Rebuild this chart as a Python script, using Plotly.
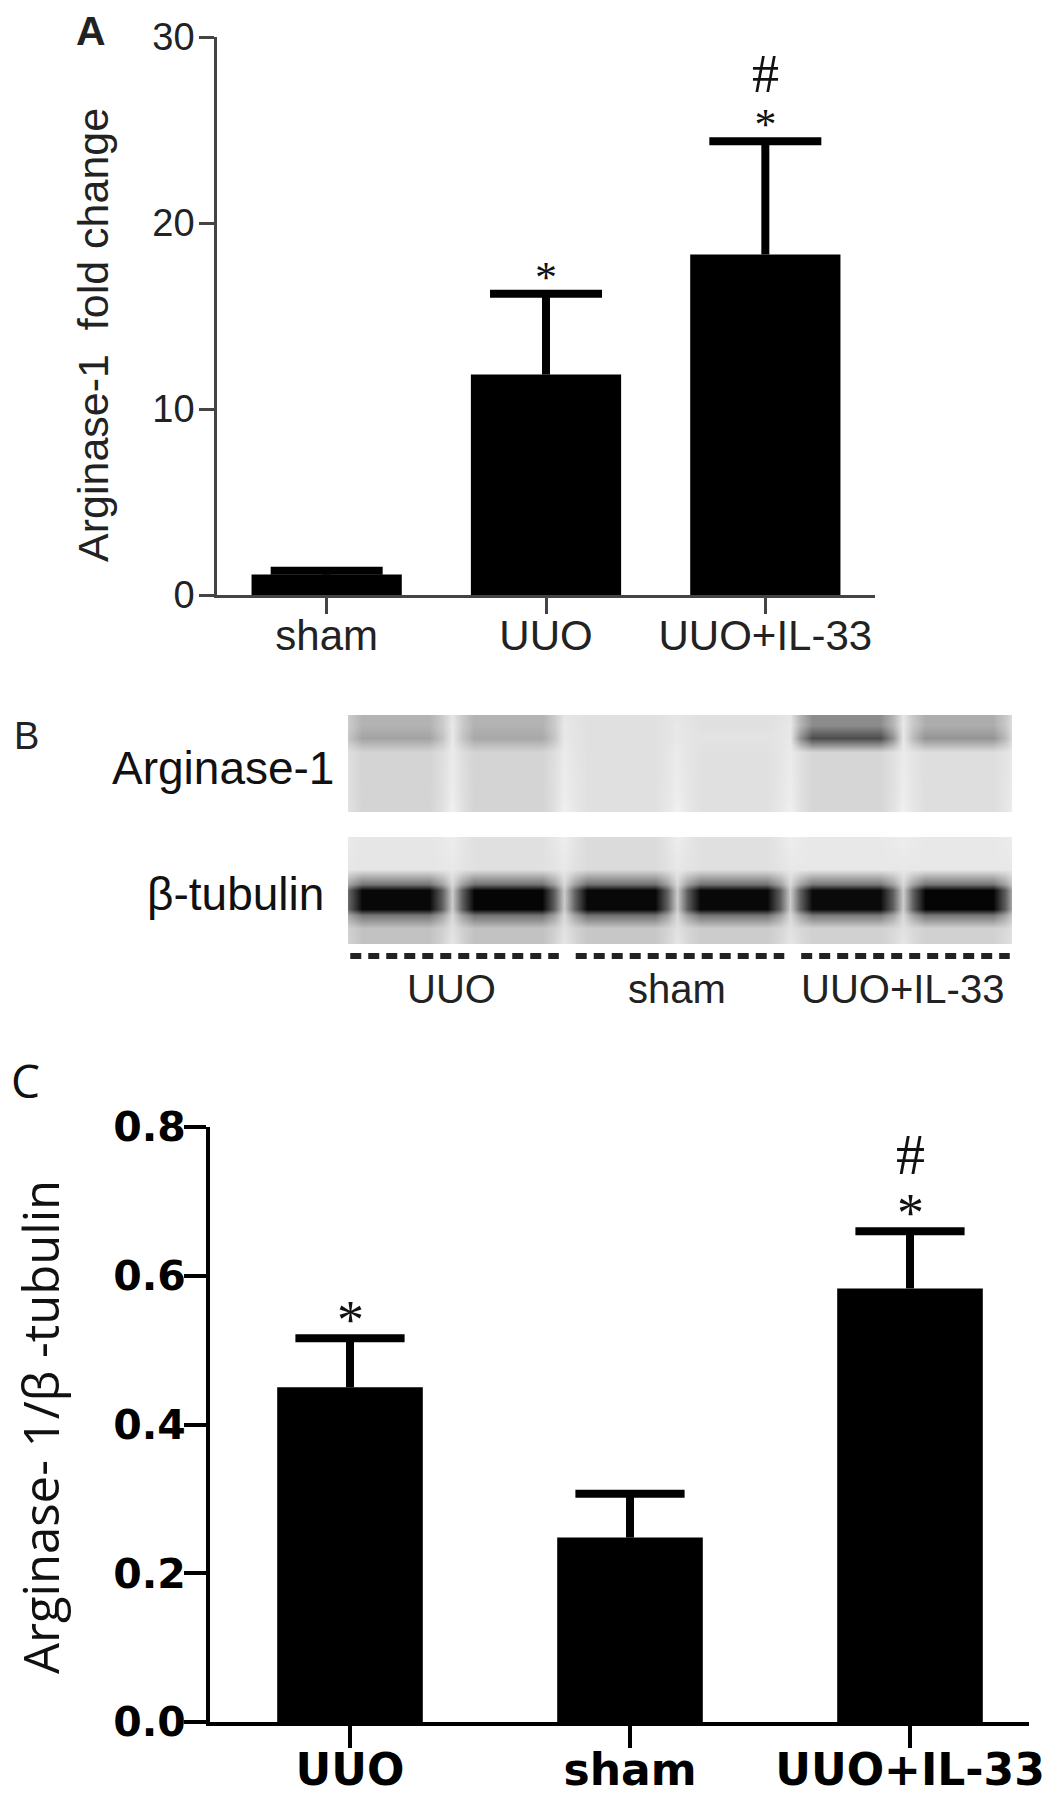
import plotly.graph_objects as go

W, H = 1063, 1800
PAGE_OFFSET = 8  # the html body margin shifts the figure by 8px

# ---------------- data ----------------
# panel A: Arginase-1 mRNA fold change
groups_a = ['sham', 'UUO', 'UUO+IL-33']
fold_mean = [1.1, 11.85, 18.3]
fold_sem = [0.2, 4.35, 6.1]
star_a = ['', '*', '*']
hash_a = ['', '', '#']

# panel B: western blot, darkness per lane (0 = white, 1 = black)
blot_groups = ['UUO', 'sham', 'UUO+IL-33']
lanes_per_group = 2
arg_top = [0.30, 0.30, 0.12, 0.12, 0.45, 0.32]
arg_band = [0.36, 0.34, 0.12, 0.11, 0.70, 0.42]
arg_low = [0.17, 0.17, 0.12, 0.12, 0.16, 0.13]
tub_top = [0.10, 0.12, 0.14, 0.12, 0.09, 0.09]
tub_band = [0.97, 0.98, 0.97, 0.97, 0.96, 0.98]
tub_low = [0.24, 0.24, 0.22, 0.20, 0.18, 0.18]

# panel C: Arginase-1 / beta-tubulin
groups_c = ['UUO', 'sham', 'UUO+IL-33']
ratio_mean = [0.45, 0.248, 0.583]
ratio_sem = [0.066, 0.059, 0.077]
star_c = ['*', '', '*']
hash_c = ['', '', '#']


def fx(p):
    return (p - PAGE_OFFSET) / W


def fy(p):
    return 1 - (p - PAGE_OFFSET) / H


def strip_table(rows, gaps, edge=0.55):
    """lane profiles -> heatmap table (columns: gap, edge, lane, lane, edge, gap ...)"""
    xs = [-0.5]
    for i in range(len(rows[0])):
        xs += [i - 0.41, i - 0.3, i + 0.3, i + 0.41, i + 0.5]
    z = []
    for vals, g in zip(rows, gaps):
        line = [g]
        for v in vals:
            e = g + edge * (v - g)
            line += [e, v, v, e, g]
        z.append(line)
    return xs, z


def error_traces(groups, mean, sem, xa, ya, cap):
    """upper error bar only: stem + cap"""
    sx, sy = [], []
    for g, m, s in zip(groups, mean, sem):
        sx += [g, g, None]
        sy += [m, m + s, None]
    stems = go.Scatter(x=sx, y=sy, mode='lines', hoverinfo='skip',
                       line=dict(color='black', width=8), xaxis=xa, yaxis=ya)
    caps = go.Scatter(x=groups, y=[m + s for m, s in zip(mean, sem)], mode='markers',
                      hoverinfo='skip', xaxis=xa, yaxis=ya,
                      marker=dict(symbol='line-ew', size=cap, color='black',
                                  line=dict(color='black', width=8)))
    return [stems, caps]


def sig_text(star, hsh, size_hash, size_star):
    parts = []
    if hsh:
        parts.append(f'<span style="font-size:{size_hash}px">{hsh}</span>')
    if star:
        parts.append(f'<span style="font-size:{size_star}px">{star}</span>')
    return '<br>'.join(parts)


fig = go.Figure()
grey = [[0, '#ffffff'], [1, '#000000']]

# ---- A ----
fig.add_trace(go.Bar(x=groups_a, y=fold_mean, width=0.685,
                     marker=dict(color='black', line=dict(width=0)),
                     xaxis='x', yaxis='y'))
fig.add_traces(error_traces(groups_a, fold_mean, fold_sem, 'x', 'y', 80))

# ---- B ----
arg_y = [0, 0.1, 0.24, 0.38, 0.85, 0.97, 1.0]
arg_rows = [arg_top, arg_top, arg_band, arg_low, arg_low, arg_low, arg_low]
arg_gaps = [0.10, 0.09, 0.09, 0.08, 0.07, 0.06, 0.05]
xs, z = strip_table(arg_rows, arg_gaps)
fig.add_trace(go.Heatmap(x=xs, y=arg_y, z=z, colorscale=grey, zmin=0, zmax=1,
                         zsmooth='best', showscale=False, hoverinfo='skip',
                         xaxis='x3', yaxis='y3'))

tub_edge = [(b + t) / 2 for b, t in zip(tub_band, tub_top)]
tub_y = [0, 0.02, 0.3, 0.44, 0.5, 0.68, 0.74, 0.86, 0.98, 1.0]
tub_rows = [tub_top, tub_top, tub_top, tub_edge, tub_band, tub_band, tub_edge,
            tub_low, tub_low, tub_low]
tub_gaps = [0.07, 0.07, 0.09, 0.15, 0.20, 0.20, 0.15, 0.12, 0.10, 0.10]
xs, z = strip_table(tub_rows, tub_gaps)
fig.add_trace(go.Heatmap(x=xs, y=tub_y, z=z, colorscale=grey, zmin=0, zmax=1,
                         zsmooth='best', showscale=False, hoverinfo='skip',
                         xaxis='x3', yaxis='y4'))

# dashed group markers under the blot
dash_x, dash_y = [], []
for g in range(len(blot_groups)):
    first = g * lanes_per_group
    last = first + lanes_per_group - 1
    dash_x += [first - 0.4, last + 0.45, None]
    dash_y += [1.123, 1.123, None]
fig.add_trace(go.Scatter(x=dash_x, y=dash_y, mode='lines', hoverinfo='skip',
                         line=dict(color='#222222', width=6, dash='11px,7px'),
                         xaxis='x3', yaxis='y4'))

# ---- C ----
fig.add_trace(go.Bar(x=groups_c, y=ratio_mean, width=0.52,
                     marker=dict(color='black', line=dict(width=0)),
                     xaxis='x2', yaxis='y2'))
fig.add_traces(error_traces(groups_c, ratio_mean, ratio_sem, 'x2', 'y2', 78))

# significance marks
ann = []
for g, m, s, st, hs in zip(groups_a, fold_mean, fold_sem, star_a, hash_a):
    if st or hs:
        ann.append(dict(x=g, y=m + s, xref='x', yref='y', showarrow=False,
                        text=sig_text(st, hs, 54, 44), yanchor='bottom', yshift=-10,
                        font=dict(family='Liberation Serif', size=36, color='#111')))
for g, m, s, st, hs in zip(groups_c, ratio_mean, ratio_sem, star_c, hash_c):
    if st or hs:
        ann.append(dict(x=g, y=m + s, xref='x2', yref='y2', showarrow=False,
                        text=sig_text(st, hs, 58, 54), yanchor='bottom', yshift=-14,
                        font=dict(family='Liberation Serif', size=44, color='#111')))

# blot group labels
for g, name in enumerate(blot_groups):
    ann.append(dict(x=g * lanes_per_group + (lanes_per_group - 1) / 2, y=fy(989),
                    xref='x3', yref='paper', text=name, showarrow=False,
                    font=dict(family='Liberation Sans', size=40, color='#222')))

# panel letters, titles and blot row labels
sans = 'Liberation Sans, Arial, sans-serif'
labels = [
    dict(x=fx(91), y=fy(31), text='<b>A</b>', borderpad=0,
         font=dict(family=sans, size=41, color='#222')),
    dict(x=fx(93), y=fy(335), text='Arginase-1  fold change', textangle=-90,
         font=dict(family=sans, size=43, color='#222')),
    dict(x=fx(26), y=fy(736), text='B', font=dict(family=sans, size=38, color='#222')),
    dict(x=fx(336), y=fy(768), text='Arginase-1', xanchor='right',
         font=dict(family=sans, size=46, color='#111')),
    dict(x=fx(326), y=fy(894), text='β-tubulin', xanchor='right',
         font=dict(family=sans, size=46, color='#111')),
    dict(x=fx(25), y=fy(1080), text='C', font=dict(family='Open Sans', size=46, color='#111')),
    dict(x=fx(40), y=fy(1427), text='Arginase- 1/β -tubulin', textangle=-90, borderpad=0,
         font=dict(family='Open Sans', size=49, color='#111')),
]
for a in labels:
    a.update(xref='paper', yref='paper', showarrow=False)
    a.setdefault('xanchor', 'center')
    a.setdefault('yanchor', 'middle')
ann += labels

axis_a = dict(showgrid=False, zeroline=False, showline=True, linecolor='#444',
              linewidth=2.5, ticks='outside', tickcolor='#444', tickwidth=2.5,
              automargin=False)
axis_c = dict(showgrid=False, zeroline=False, showline=True, linecolor='black',
              linewidth=4, ticks='outside', tickcolor='black', tickwidth=4, ticklen=22,
              automargin=False)

fig.update_layout(
    width=W, height=H,
    margin=dict(l=0, r=0, t=0, b=0, pad=0, autoexpand=False),
    paper_bgcolor='white', plot_bgcolor='white',
    showlegend=False,
    annotations=ann,
    xaxis=dict(axis_a, domain=[fx(217), fx(875)], range=[-0.5, 2.5], anchor='y',
               ticklen=16, ticklabelstandoff=-14,
               tickfont=dict(family=sans, size=42, color='#222')),
    yaxis=dict(axis_a, domain=[fy(595), fy(37)], range=[0, 30], anchor='x',
               tickvals=[0, 10, 20, 30], ticklen=15, ticklabelstandoff=-3,
               tickfont=dict(family=sans, size=38, color='#222')),
    xaxis2=dict(axis_c, domain=[fx(210), fx(1029)], range=[-0.5, 2.425], anchor='y2',
                ticklabelstandoff=-16,
                tickfont=dict(family='DejaVu Sans', size=44, color='black', weight='bold')),
    yaxis2=dict(axis_c, domain=[fy(1722), fy(1127)], range=[0, 0.8], anchor='x2',
                tickvals=[0, 0.2, 0.4, 0.6, 0.8], tickformat='.1f', ticklabelstandoff=-10,
                tickfont=dict(family='DejaVu Sans', size=41, color='black', weight='bold')),
    xaxis3=dict(domain=[fx(348), fx(1012)], range=[-0.42, 5.47], visible=False, anchor='y3'),
    yaxis3=dict(domain=[fy(812), fy(715)], range=[1, 0], visible=False, anchor='x3'),
    yaxis4=dict(domain=[fy(960), fy(837)], range=[1.16, 0], visible=False, anchor='x3'),
)

fig.write_html("out.html")
